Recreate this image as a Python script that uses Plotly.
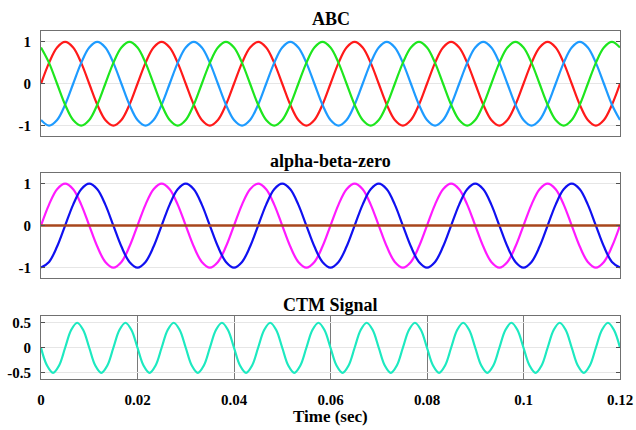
import plotly.graph_objects as go

# Sample times (s): ABC / alpha-beta sampled every 1/600 s, CTM every 1/800 s
t_abc = [i / 600 for i in range(73)]
t_ctm = [i / 800 for i in range(97)]

phase_a = [0, 0.5, 0.866, 1, 0.866, 0.5, 0, -0.5, -0.866, -1, -0.866, -0.5,
           0, 0.5, 0.866, 1, 0.866, 0.5, 0, -0.5, -0.866, -1, -0.866, -0.5,
           0, 0.5, 0.866, 1, 0.866, 0.5, 0, -0.5, -0.866, -1, -0.866, -0.5,
           0, 0.5, 0.866, 1, 0.866, 0.5, 0, -0.5, -0.866, -1, -0.866, -0.5,
           0, 0.5, 0.866, 1, 0.866, 0.5, 0, -0.5, -0.866, -1, -0.866, -0.5,
           0, 0.5, 0.866, 1, 0.866, 0.5, 0, -0.5, -0.866, -1, -0.866, -0.5,
           0]
phase_b = [-0.866, -1, -0.866, -0.5, 0, 0.5, 0.866, 1, 0.866, 0.5, 0, -0.5,
           -0.866, -1, -0.866, -0.5, 0, 0.5, 0.866, 1, 0.866, 0.5, 0, -0.5,
           -0.866, -1, -0.866, -0.5, 0, 0.5, 0.866, 1, 0.866, 0.5, 0, -0.5,
           -0.866, -1, -0.866, -0.5, 0, 0.5, 0.866, 1, 0.866, 0.5, 0, -0.5,
           -0.866, -1, -0.866, -0.5, 0, 0.5, 0.866, 1, 0.866, 0.5, 0, -0.5,
           -0.866, -1, -0.866, -0.5, 0, 0.5, 0.866, 1, 0.866, 0.5, 0, -0.5,
           -0.866]
phase_c = [0.866, 0.5, 0, -0.5, -0.866, -1, -0.866, -0.5, 0, 0.5, 0.866, 1,
           0.866, 0.5, 0, -0.5, -0.866, -1, -0.866, -0.5, 0, 0.5, 0.866, 1,
           0.866, 0.5, 0, -0.5, -0.866, -1, -0.866, -0.5, 0, 0.5, 0.866, 1,
           0.866, 0.5, 0, -0.5, -0.866, -1, -0.866, -0.5, 0, 0.5, 0.866, 1,
           0.866, 0.5, 0, -0.5, -0.866, -1, -0.866, -0.5, 0, 0.5, 0.866, 1,
           0.866, 0.5, 0, -0.5, -0.866, -1, -0.866, -0.5, 0, 0.5, 0.866, 1,
           0.866]
alpha = [0, 0.5, 0.866, 1, 0.866, 0.5, 0, -0.5, -0.866, -1, -0.866, -0.5,
         0, 0.5, 0.866, 1, 0.866, 0.5, 0, -0.5, -0.866, -1, -0.866, -0.5,
         0, 0.5, 0.866, 1, 0.866, 0.5, 0, -0.5, -0.866, -1, -0.866, -0.5,
         0, 0.5, 0.866, 1, 0.866, 0.5, 0, -0.5, -0.866, -1, -0.866, -0.5,
         0, 0.5, 0.866, 1, 0.866, 0.5, 0, -0.5, -0.866, -1, -0.866, -0.5,
         0, 0.5, 0.866, 1, 0.866, 0.5, 0, -0.5, -0.866, -1, -0.866, -0.5,
         0]
beta = [-1, -0.866, -0.5, 0, 0.5, 0.866, 1, 0.866, 0.5, 0, -0.5, -0.866,
        -1, -0.866, -0.5, 0, 0.5, 0.866, 1, 0.866, 0.5, 0, -0.5, -0.866,
        -1, -0.866, -0.5, 0, 0.5, 0.866, 1, 0.866, 0.5, 0, -0.5, -0.866,
        -1, -0.866, -0.5, 0, 0.5, 0.866, 1, 0.866, 0.5, 0, -0.5, -0.866,
        -1, -0.866, -0.5, 0, 0.5, 0.866, 1, 0.866, 0.5, 0, -0.5, -0.866,
        -1, -0.866, -0.5, 0, 0.5, 0.866, 1, 0.866, 0.5, 0, -0.5, -0.866,
        -1]
zero_t = [0, 0.12]
zero = [0, 0]
ctm = [0, -0.354, -0.5, -0.354, 0, 0.354, 0.5, 0.354,
       0, -0.354, -0.5, -0.354, 0, 0.354, 0.5, 0.354,
       0, -0.354, -0.5, -0.354, 0, 0.354, 0.5, 0.354,
       0, -0.354, -0.5, -0.354, 0, 0.354, 0.5, 0.354,
       0, -0.354, -0.5, -0.354, 0, 0.354, 0.5, 0.354,
       0, -0.354, -0.5, -0.354, 0, 0.354, 0.5, 0.354,
       0, -0.354, -0.5, -0.354, 0, 0.354, 0.5, 0.354,
       0, -0.354, -0.5, -0.354, 0, 0.354, 0.5, 0.354,
       0, -0.354, -0.5, -0.354, 0, 0.354, 0.5, 0.354,
       0, -0.354, -0.5, -0.354, 0, 0.354, 0.5, 0.354,
       0, -0.354, -0.5, -0.354, 0, 0.354, 0.5, 0.354,
       0, -0.354, -0.5, -0.354, 0, 0.354, 0.5, 0.354,
       0]

titles = ["ABC", "alpha-beta-zero", "CTM Signal"]
x_label = "Time (sec)"
x_ticks = [0, 0.02, 0.04, 0.06, 0.08, 0.1, 0.12]
x_ticktext = ["0", "0.02", "0.04", "0.06", "0.08", "0.1", "0.12"]
y_ticks_big = [-1, 0, 1]
y_ticks_small = [-0.5, 0, 0.5]
y_ticktext_small = ["-0.5", "0", "0.5"]

FONT = "Liberation Serif"
tickfont = dict(family=FONT, size=15, color="black", weight="bold")

fig = go.Figure()
lw = 2.2
fig.add_trace(go.Scatter(x=t_abc, y=phase_a, mode="lines", line=dict(color="#ff1a1a", width=lw, shape="spline"), xaxis="x", yaxis="y"))
fig.add_trace(go.Scatter(x=t_abc, y=phase_b, mode="lines", line=dict(color="#1e9bff", width=lw, shape="spline"), xaxis="x", yaxis="y"))
fig.add_trace(go.Scatter(x=t_abc, y=phase_c, mode="lines", line=dict(color="#1ee61e", width=lw, shape="spline"), xaxis="x", yaxis="y"))

fig.add_trace(go.Scatter(x=t_abc, y=alpha, mode="lines", line=dict(color="#ff1aff", width=lw, shape="spline"), xaxis="x2", yaxis="y2"))
fig.add_trace(go.Scatter(x=t_abc, y=beta, mode="lines", line=dict(color="#1010f0", width=lw, shape="spline"), xaxis="x2", yaxis="y2"))
fig.add_trace(go.Scatter(x=zero_t, y=zero, mode="lines", line=dict(color="#a8461c", width=2.6), xaxis="x2", yaxis="y2"))

fig.add_trace(go.Scatter(x=t_ctm, y=ctm, mode="lines", line=dict(color="#1de9c0", width=lw, shape="spline"), xaxis="x3", yaxis="y3"))

H = 430.0
def dom(top_px, bot_px):
    return [1 - bot_px / H, 1 - top_px / H]

common_x = dict(range=[0, 0.12], showline=True, linecolor="#707070", linewidth=1, mirror=True,
                zeroline=False, fixedrange=True)
common_y = dict(showline=True, linecolor="#707070", linewidth=1, mirror="ticks", ticks="inside",
                ticklen=4, tickcolor="#505050", zeroline=False, showgrid=True, gridcolor="#e6e6e6",
                gridwidth=1, tickfont=tickfont, ticklabelstandoff=6)

fig.update_layout(
    width=636, height=430,
    margin=dict(l=41, r=16, t=0, b=0),
    paper_bgcolor="white", plot_bgcolor="white",
    showlegend=False,
    xaxis=dict(**common_x, domain=[0, 1], anchor="y", showticklabels=False, showgrid=False, ticks=""),
    yaxis=dict(**common_y, domain=dom(30.7, 136), range=[-1.25, 1.25], tickvals=y_ticks_big,
               ticktext=[str(v) for v in y_ticks_big], anchor="x"),
    xaxis2=dict(**common_x, domain=[0, 1], anchor="y2", showticklabels=False, showgrid=False, ticks=""),
    yaxis2=dict(**common_y, domain=dom(173.3, 279), range=[-1.25, 1.25], tickvals=y_ticks_big,
                ticktext=[str(v) for v in y_ticks_big], anchor="x2"),
    xaxis3=dict(**common_x, domain=[0, 1], anchor="y3", showticklabels=True, tickvals=x_ticks,
                ticktext=x_ticktext, tickfont=tickfont, ticks="", showgrid=True, gridcolor="#7a7a7a",
                gridwidth=1, ticklabelstandoff=7),
    yaxis3=dict(**common_y, domain=dom(317.7, 380.7), range=[-0.625, 0.625], tickvals=y_ticks_small,
                ticktext=y_ticktext_small, anchor="x3"),
)

title_font = dict(family=FONT, size=18, color="black", weight="bold")
for txt, ypx in zip(titles, [18, 161, 306]):
    fig.add_annotation(text=txt, x=0.5, xref="paper", y=1 - ypx / H, yref="paper",
                       xanchor="center", yanchor="middle", showarrow=False, font=title_font)
fig.add_annotation(text=x_label, x=0.5, xref="paper", y=1 - 418.5 / H, yref="paper",
                   xanchor="center", yanchor="middle", showarrow=False,
                   font=dict(family=FONT, size=17, color="black", weight="bold"))

fig.write_html("out.html", config={"displayModeBar": False},
               post_script="document.body.style.margin='0';document.body.style.overflow='hidden';")
